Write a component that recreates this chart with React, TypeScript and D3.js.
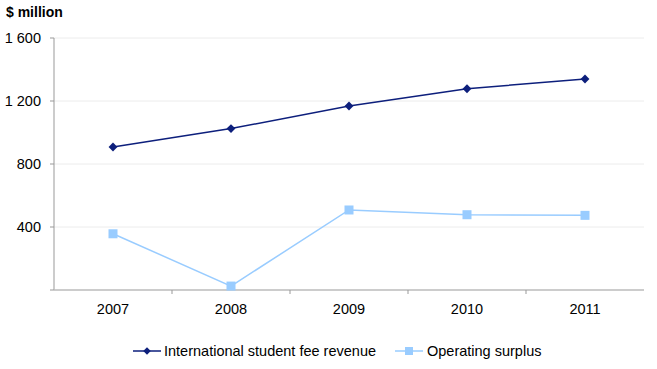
import React from 'react';
import * as d3 from 'd3';

const years = ['2007', '2008', '2009', '2010', '2011'];
const revenue = [908, 1025, 1168, 1278, 1340];
const surplus = [357, 25, 508, 478, 474];
const yTicks = [0, 400, 800, 1200, 1600];

const W = 657;
const H = 369;
const NAVY = '#0d1f7c';
const LIGHT = '#99ccff';
const FONT = '"Liberation Sans", Arial, sans-serif';
const FS = 14.5;

const fmt = (v: number) => (v >= 1000 ? `${Math.floor(v / 1000)} ${String(v % 1000).padStart(3, '0')}` : String(v));

export default function App() {
  const x = d3.scaleBand<string>().domain(years).range([54, 644]);
  const y = d3.scaleLinear().domain([0, 1600]).range([290, 38]);
  const cx = (d: string) => (x(d) || 0) + x.bandwidth() / 2;

  const line = d3.line<number>().x((_, i) => cx(years[i])).y(d => y(d));
  const diamond = d3.symbol().type(d3.symbolDiamond2).size(50);

  return (
    <svg width={W} height={H} style={{ position: 'absolute', left: 0, top: 0, fontFamily: FONT }}>
      <text x={6} y={17} fontSize={14} fontWeight="bold">$ million</text>

      {yTicks.map(t => (
        <g key={t}>
          {t > 0 && <line x1={54} x2={644} y1={y(t)} y2={y(t)} stroke="#ececec" strokeWidth={1} />}
          <line x1={50} x2={54} y1={y(t)} y2={y(t)} stroke="#999" />
          {t > 0 && (
            <text x={41} y={y(t)} dy="0.35em" textAnchor="end" fontSize={FS}>{fmt(t)}</text>
          )}
        </g>
      ))}
      <line x1={54} x2={54} y1={38} y2={290} stroke="#999" />
      <line x1={54} x2={644} y1={290} y2={290} stroke="#bbb" strokeWidth={1.5} />
      {years.map((yr, i) => (
        <g key={yr}>
          {i > 0 && <line x1={x(yr)} x2={x(yr)} y1={290} y2={294} stroke="#999" />}
          <text x={cx(yr)} y={314} textAnchor="middle" fontSize={FS}>{yr}</text>
        </g>
      ))}

      <path d={line(revenue) || ''} fill="none" stroke={NAVY} strokeWidth={1.5} />
      {revenue.map((v, i) => (
        <path key={i} d={diamond() || ''} transform={`translate(${cx(years[i])},${y(v)})`} fill={NAVY} />
      ))}
      <path d={line(surplus) || ''} fill="none" stroke={LIGHT} strokeWidth={1.5} />
      {surplus.map((v, i) => (
        <rect key={i} x={cx(years[i]) - 4.5} y={y(v) - 4.5} width={9} height={9} fill={LIGHT} />
      ))}

      <g>
        <line x1={133} x2={161} y1={351} y2={351} stroke={NAVY} strokeWidth={1.5} />
        <path d={d3.symbol().type(d3.symbolDiamond2).size(36)() || ''} transform="translate(147,351)" fill={NAVY} />
        <text x={164} y={351} dy="0.35em" fontSize={FS}>International student fee revenue</text>
        <line x1={395} x2={423} y1={351} y2={351} stroke={LIGHT} strokeWidth={1.5} />
        <rect x={405} y={347} width={8} height={8} fill={LIGHT} />
        <text x={427} y={351} dy="0.35em" fontSize={FS}>Operating surplus</text>
      </g>
    </svg>
  );
}
